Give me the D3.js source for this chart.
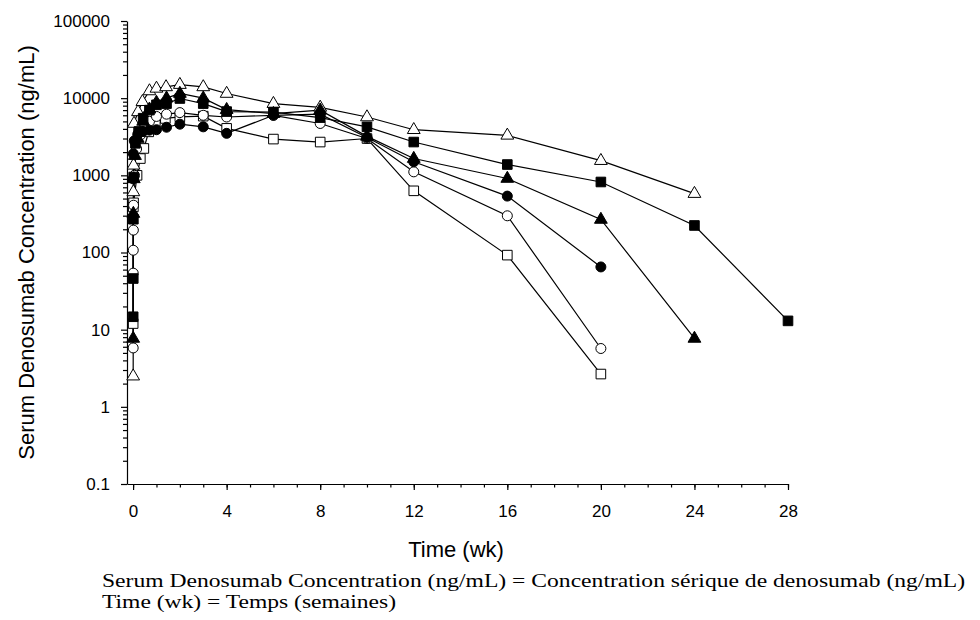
<!DOCTYPE html>
<html>
<head>
<meta charset="utf-8">
<script src="https://cdn.jsdelivr.net/npm/d3@7"></script>
<style>
  body { margin: 0; background: #fff; }
  svg { display: block; }
</style>
</head>
<body>
<svg id="chart" width="980" height="620"></svg>
<script>
// Tick labels
const xTickLabels = [0, 4, 8, 12, 16, 20, 24, 28];
const yTickLabels = [0.1, 1, 10, 100, 1000, 10000, 100000];

// Series values (time in weeks, concentration in ng/mL)
const triOpenTime = [0.004, 0.012, 0.02, 0.04, 0.21, 0.4, 0.7, 1, 1.41, 2, 3, 4, 6, 8, 10, 12, 16, 20, 24];
const triOpenConc = [2.5, 610, 1350, 4700, 6650, 9000, 12400, 13400, 14000, 15000, 14000, 11500, 8500, 7600, 5700, 3900, 3300, 1550, 580];

const sqFillTime = [0.004, 0.008, 0.012, 0.025, 0.1, 0.25, 0.43, 0.7, 1, 1.43, 2, 3, 4, 6, 8, 10, 12, 16, 20, 24, 28];
const sqFillConc = [14.7, 46, 270, 950, 2600, 3700, 5500, 7000, 8200, 8500, 9900, 8500, 6700, 6600, 5600, 4250, 2700, 1380, 820, 224, 13];

const triFillTime = [0.004, 0.012, 0.03, 0.08, 0.2, 0.43, 0.7, 1, 1.43, 2, 3, 4, 6, 8, 10, 12, 16, 20, 24];
const triFillConc = [7.7, 320, 900, 1800, 3000, 5000, 7200, 8800, 10000, 11500, 10000, 7100, 6300, 7000, 3200, 1650, 910, 268, 7.7];

const circFillTime = [0.006, 0.012, 0.05, 0.2, 0.43, 0.7, 1, 1.43, 2, 3, 4, 6, 8, 10, 12, 16, 20];
const circFillConc = [900, 1900, 2800, 3400, 3700, 3850, 3900, 4200, 4600, 4250, 3500, 6000, 6200, 3100, 1500, 538, 65];

const circOpenTime = [0.004, 0.006, 0.008, 0.012, 0.02, 0.06, 0.15, 0.3, 0.5, 0.7, 1, 1.43, 2, 3, 4, 6, 8, 10, 12, 16, 20];
const circOpenConc = [5.8, 54, 107, 195, 410, 1000, 2200, 3300, 4200, 5000, 5800, 6200, 6500, 6000, 5700, 6000, 4700, 3000, 1110, 299, 5.7];

const sqOpenTime = [0.004, 0.012, 0.02, 0.17, 0.31, 0.46, 0.67, 0.95, 1.38, 2, 3, 4, 6, 8, 10, 12, 16, 20];
const sqOpenConc = [12, 390, 440, 1000, 1650, 2230, 3660, 4800, 5460, 5730, 5850, 4060, 2950, 2700, 3000, 630, 92.5, 2.66];

const zip = (t, c) => t.map((d, i) => ({ t: d, c: c[i] }));

// drawing order: first ones sit underneath
const series = [
  { shape: "square",   filled: false, data: zip(sqOpenTime, sqOpenConc) },
  { shape: "circle",   filled: false, data: zip(circOpenTime, circOpenConc) },
  { shape: "triangle", filled: false, data: zip(triOpenTime, triOpenConc) },
  { shape: "circle",   filled: true,  data: zip(circFillTime, circFillConc) },
  { shape: "square",   filled: true,  data: zip(sqFillTime, sqFillConc) },
  { shape: "triangle", filled: true,  data: zip(triFillTime, triFillConc) }
];

const svg = d3.select("#chart");
const sans = "'Liberation Sans', Arial, sans-serif";

const x = d3.scaleLinear().domain([-0.26, 28]).range([127, 788]);
const y = d3.scaleLog().domain([0.1, 100000]).range([484, 21]);

// minor ticks
const xMinor = d3.range(0, 29);
const yMinor = [];
yTickLabels.slice(0, -1).forEach(p => { for (let k = 2; k <= 9; k++) yMinor.push(p * k); });

svg.append("g")
  .attr("transform", `translate(0,${y(0.1)})`)
  .call(d3.axisBottom(x).tickValues(xMinor).tickSize(3.5).tickFormat(""))
  .call(g => g.select(".domain").remove());

svg.append("g")
  .attr("transform", `translate(${x.range()[0]},0)`)
  .call(d3.axisLeft(y).tickValues(yMinor).tickSize(4).tickFormat(""))
  .call(g => g.select(".domain").remove());

// X axis
svg.append("g")
  .attr("transform", `translate(0,${y(0.1)})`)
  .call(d3.axisBottom(x).tickValues(xTickLabels).tickSize(6).tickSizeOuter(0).tickPadding(15))
  .call(g => g.selectAll("text").attr("font-size", 17).attr("font-family", sans).attr("fill", "#000"));

// Y axis
svg.append("g")
  .attr("transform", `translate(${x.range()[0]},0)`)
  .call(d3.axisLeft(y).tickValues(yTickLabels).tickSize(6).tickSizeOuter(0).tickPadding(11)
    .tickFormat(d => String(d)))
  .call(g => g.selectAll("text").attr("font-size", 17).attr("font-family", sans).attr("fill", "#000"));

svg.selectAll(".domain, .tick line").attr("stroke", "#000").attr("stroke-width", 1.2);

// lines
const line = d3.line().x(d => x(d.t)).y(d => y(d.c));
svg.append("g").selectAll("path")
  .data(series)
  .join("path")
  .attr("d", s => line(s.data))
  .attr("fill", "none")
  .attr("stroke", "#000")
  .attr("stroke-width", 1.2);

// markers
function markerPath(shape) {
  if (shape === "square") return "M-4.8,-4.8H4.8V4.8H-4.8Z";
  return "M0,-7.2L6.4,3.8H-6.4Z";
}

series.forEach(s => {
  const g = svg.append("g");
  const sel = s.shape === "circle"
    ? g.selectAll("circle").data(s.data).join("circle").attr("r", 5)
        .attr("cx", d => x(d.t)).attr("cy", d => y(d.c))
    : g.selectAll("path").data(s.data).join("path").attr("d", markerPath(s.shape))
        .attr("transform", d => `translate(${x(d.t)},${y(d.c)})`);
  sel.attr("fill", s.filled ? "#000" : "#fff")
    .attr("stroke", "#000")
    .attr("stroke-width", 1);
});

// axis titles
svg.append("text")
  .attr("transform", `translate(34,${(y.range()[0] + y.range()[1]) / 2}) rotate(-90)`)
  .attr("text-anchor", "middle")
  .attr("font-family", sans)
  .attr("font-size", 22)
  .text("Serum Denosumab Concentration (ng/mL)");

svg.append("text")
  .attr("x", 456)
  .attr("y", 557)
  .attr("text-anchor", "middle")
  .attr("font-family", sans)
  .attr("font-size", 22)
  .text("Time (wk)");

// translation note
const notes = [
  "Serum Denosumab Concentration (ng/mL) = Concentration sérique de denosumab (ng/mL)",
  "Time (wk) = Temps (semaines)"
];
const noteWidths = [863, 294];
svg.append("g").selectAll("text")
  .data(notes)
  .join("text")
  .attr("x", 102)
  .attr("y", (d, i) => 586.5 + i * 21.6)
  .attr("font-family", "'Liberation Serif', 'Times New Roman', serif")
  .attr("font-size", 19.4)
  .attr("textLength", (d, i) => noteWidths[i])
  .attr("lengthAdjust", "spacingAndGlyphs")
  .text(d => d);
</script>
</body>
</html>
